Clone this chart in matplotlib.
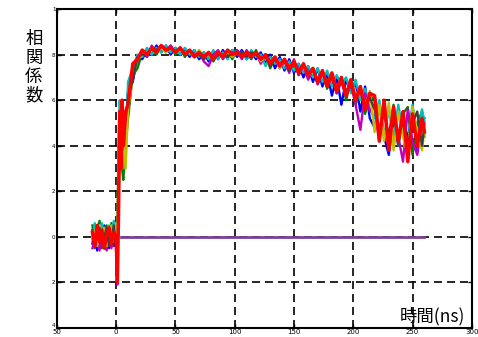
import matplotlib
matplotlib.use('Agg')
import matplotlib.pyplot as plt

# time axis (ns), shared by every trace
t = [-20, -18, -16, -14, -12, -10, -8, -6, -4, -2, 0,
     1, 2, 3, 4, 5, 6, 8,
     10, 14, 18, 22, 26, 30, 34, 38, 42, 46, 50, 54, 58,
     62, 66, 70, 74, 78, 82, 86, 90, 94, 98, 102, 106, 110,
     114, 118, 122, 126, 130, 134, 138, 142, 146, 150, 154, 158, 162,
     166, 170, 174, 178, 182, 186, 190, 194, 198, 202, 206, 210, 214,
     218, 222, 226, 230, 234, 238, 242, 246, 250, 254, 258,
     260]

blue = [-0.03, 0.04, -0.06, 0.02, -0.04, 0.05, -0.02, -0.05, 0.03, -0.04, -0.02,
        -0.10, 0.35, 0.45, 0.50, 0.42, 0.55, 0.45,
        0.64, 0.68, 0.79, 0.78, 0.82, 0.80, 0.84, 0.81, 0.84, 0.80, 0.83, 0.80, 0.82,
        0.79, 0.82, 0.78, 0.81, 0.77, 0.81, 0.78, 0.82, 0.79, 0.82, 0.79, 0.82, 0.78,
        0.81, 0.78, 0.81, 0.76, 0.80, 0.74, 0.79, 0.73, 0.78, 0.72, 0.76, 0.70, 0.75,
        0.68, 0.74, 0.66, 0.72, 0.62, 0.70, 0.58, 0.69, 0.64, 0.68, 0.55, 0.66, 0.52,
        0.48, 0.58, 0.44, 0.36, 0.52, 0.40, 0.55, 0.42, 0.57, 0.38, 0.50,
        0.52]

green = [0.05, -0.02, 0.03, 0.07, -0.05, 0.02, 0.05, -0.03, 0.06, 0.03, 0.04,
         -0.05, 0.40, 0.35, 0.55, 0.30, 0.25, 0.40,
         0.52, 0.71, 0.74, 0.81, 0.79, 0.83, 0.80, 0.84, 0.81, 0.84, 0.80, 0.83, 0.79,
         0.82, 0.79, 0.81, 0.78, 0.80, 0.77, 0.81, 0.79, 0.82, 0.78, 0.82, 0.79, 0.81,
         0.78, 0.82, 0.77, 0.80, 0.74, 0.79, 0.75, 0.78, 0.73, 0.77, 0.71, 0.76, 0.70,
         0.74, 0.67, 0.73, 0.65, 0.71, 0.63, 0.70, 0.60, 0.69, 0.58, 0.66, 0.54, 0.62,
         0.60, 0.45, 0.56, 0.42, 0.58, 0.40, 0.54, 0.57, 0.36, 0.50, 0.55,
         0.44]

cyan = [-0.01, 0.06, -0.03, 0.04, 0.06, -0.02, 0.03, 0.05, 0.00, 0.07, 0.03,
        -0.12, 0.25, 0.60, 0.40, 0.50, 0.30, 0.35,
        0.68, 0.74, 0.80, 0.79, 0.83, 0.80, 0.83, 0.81, 0.84, 0.81, 0.83, 0.80, 0.83,
        0.80, 0.82, 0.79, 0.81, 0.78, 0.82, 0.78, 0.81, 0.78, 0.82, 0.80, 0.81, 0.78,
        0.82, 0.79, 0.80, 0.75, 0.79, 0.76, 0.78, 0.74, 0.77, 0.73, 0.76, 0.72, 0.75,
        0.70, 0.74, 0.68, 0.73, 0.66, 0.71, 0.67, 0.70, 0.63, 0.69, 0.60, 0.65, 0.56,
        0.52, 0.60, 0.44, 0.56, 0.43, 0.58, 0.46, 0.40, 0.58, 0.45, 0.56,
        0.51]

magenta = [-0.05, -0.01, 0.02, -0.06, 0.01, -0.03, -0.06, 0.00, -0.05, 0.01, -0.04,
           -0.21, 0.20, 0.50, 0.40, 0.45, 0.50, 0.45,
           0.60, 0.73, 0.77, 0.82, 0.79, 0.84, 0.81, 0.84, 0.82, 0.84, 0.81, 0.83, 0.80,
           0.82, 0.79, 0.81, 0.77, 0.75, 0.80, 0.82, 0.78, 0.81, 0.79, 0.82, 0.78, 0.82,
           0.79, 0.81, 0.76, 0.80, 0.77, 0.78, 0.74, 0.77, 0.72, 0.78, 0.71, 0.75, 0.69,
           0.74, 0.67, 0.72, 0.66, 0.70, 0.63, 0.68, 0.62, 0.67, 0.58, 0.47, 0.63, 0.55,
           0.58, 0.42, 0.60, 0.40, 0.54, 0.44, 0.33, 0.56, 0.42, 0.36, 0.50,
           0.50]

olive = [0.01, 0.03, -0.04, 0.05, -0.01, 0.04, -0.04, 0.02, 0.05, -0.02, 0.06,
         -0.08, 0.45, 0.55, 0.35, 0.58, 0.42, 0.30,
         0.56, 0.70, 0.78, 0.80, 0.81, 0.83, 0.81, 0.83, 0.81, 0.83, 0.81, 0.82, 0.81,
         0.81, 0.79, 0.82, 0.79, 0.80, 0.78, 0.81, 0.79, 0.81, 0.79, 0.81, 0.79, 0.81,
         0.79, 0.81, 0.77, 0.79, 0.76, 0.79, 0.74, 0.78, 0.74, 0.76, 0.72, 0.75, 0.71,
         0.73, 0.69, 0.73, 0.67, 0.71, 0.65, 0.70, 0.63, 0.68, 0.62, 0.66, 0.57, 0.64,
         0.46, 0.58, 0.42, 0.59, 0.38, 0.55, 0.44, 0.36, 0.57, 0.46, 0.38,
         0.47]

gray = [0.03, -0.05, 0.00, 0.04, -0.03, 0.00, 0.04, -0.04, -0.01, 0.05, -0.06,
        -0.18, 0.15, 0.40, 0.52, 0.38, 0.48, 0.52,
        0.61, 0.69, 0.79, 0.80, 0.80, 0.83, 0.82, 0.84, 0.82, 0.83, 0.81, 0.83, 0.80,
        0.82, 0.80, 0.80, 0.78, 0.81, 0.78, 0.80, 0.80, 0.79, 0.81, 0.80, 0.81, 0.79,
        0.81, 0.80, 0.78, 0.79, 0.75, 0.78, 0.76, 0.77, 0.73, 0.77, 0.73, 0.75, 0.72,
        0.73, 0.68, 0.72, 0.68, 0.70, 0.64, 0.69, 0.64, 0.67, 0.61, 0.64, 0.58, 0.61,
        0.56, 0.47, 0.55, 0.44, 0.57, 0.42, 0.52, 0.40, 0.50, 0.55, 0.40,
        0.49]

red = [0.02, -0.04, 0.05, -0.02, 0.03, -0.05, 0.01, 0.04, -0.03, 0.02, 0.00,
       -0.20, 0.10, 0.55, 0.30, 0.60, 0.40, 0.55,
       0.58, 0.76, 0.78, 0.82, 0.80, 0.83, 0.81, 0.84, 0.82, 0.83, 0.81, 0.83, 0.80,
       0.82, 0.79, 0.81, 0.79, 0.81, 0.78, 0.81, 0.79, 0.82, 0.80, 0.81, 0.79, 0.81,
       0.79, 0.81, 0.78, 0.80, 0.76, 0.79, 0.75, 0.78, 0.74, 0.77, 0.72, 0.76, 0.71,
       0.74, 0.68, 0.73, 0.66, 0.72, 0.64, 0.70, 0.62, 0.69, 0.60, 0.66, 0.56, 0.63,
       0.62, 0.42, 0.60, 0.38, 0.57, 0.42, 0.55, 0.33, 0.54, 0.40, 0.52,
       0.46]

# flat trace sitting on zero after the pulse
base_t = [4, 260]
base_v = [0.0, 0.0]

x_ticks = [-50, 0, 50, 100, 150, 200, 250, 300]
x_labels = ['50', '0', '50', '100', '150', '200', '250', '300']
y_ticks = [-0.4, -0.2, 0, 0.2, 0.4, 0.6, 0.8, 1.0]
y_labels = ['4', '2', '0', '2', '4', '6', '8', '1']

traces = [
    (blue, (0, 0, 1)),
    (green, (0, 0.5, 0)),
    (cyan, (0, 0.75, 0.75)),
    (magenta, (0.75, 0, 0.75)),
    (olive, (0.75, 0.75, 0)),
    (gray, (0.25, 0.25, 0.25)),
]

fig = plt.figure(figsize=(4.78, 3.37), dpi=100)
ax = fig.add_axes([0.119, 0.027, 0.868, 0.946])

for vals, col in traces:
    ax.plot(t, vals, color=col, lw=1.7, zorder=3)
ax.plot(base_t, base_v, color=(0.49, 0.25, 0.6), lw=2.0, zorder=3)
ax.plot(t, red, color=(1, 0, 0), lw=2.5, zorder=4)

ax.set_xlim(-50, 300)
ax.set_ylim(-0.4, 1.0)
ax.set_xticks(x_ticks)
ax.set_xticklabels(x_labels, fontsize=5)
ax.set_yticks(y_ticks)
ax.set_yticklabels(y_labels, fontsize=4)
ax.tick_params(direction='in', length=3, width=1, top=True, right=True, pad=1)
# lift the bottom y label a touch so it clears the "50" below it
ax.get_yticklabels()[0].set_va('bottom')

ax.grid(True, color='black', linestyle=(0, (4.8, 3)), lw=1.2)
ax.set_axisbelow(True)
for sp in ax.spines.values():
    sp.set_linewidth(1.5)

fig.text(0.071, 0.80, '\n'.join('相関係数'), family=['Noto Sans CJK JP', 'DejaVu Sans'],
         fontsize=12.5, ha='center', va='center', linespacing=1.05)
fig.text(0.973, 0.062, '時間(ns)', family=['Noto Sans CJK JP', 'DejaVu Sans'],
         fontsize=12.5, ha='right', va='center')

fig.savefig('out.png', dpi=100)
